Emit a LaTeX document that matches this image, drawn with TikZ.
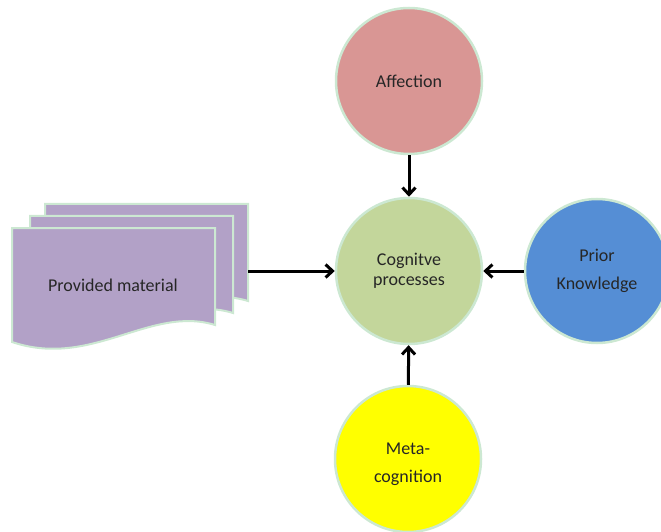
\documentclass[tikz,border=0pt]{standalone}
\usepackage{fontspec}
\setmainfont{Carlito}
\usepackage{xcolor}
\usepackage{tikz}
\usetikzlibrary{positioning,arrows.meta}

\definecolor{rimgreen}{RGB}{204,232,210}
\definecolor{affred}{RGB}{217,150,148}
\definecolor{coggreen}{RGB}{195,214,155}
\definecolor{priorblue}{RGB}{85,142,213}
\definecolor{metayellow}{RGB}{255,255,0}
\definecolor{matpurple}{RGB}{178,161,199}

\begin{document}
\begin{tikzpicture}[
  x=1pt, y=1pt,
  font=\fontsize{18}{20}\selectfont,
  bubble/.style={
    circle,
    draw=rimgreen,
    line width=2.5pt,
    minimum size=146pt,
    align=center,
    text=black!85,
    inner sep=0pt
  },
  wide/.style={font=\fontsize{18}{28}\selectfont},
  sheet/.style={draw=rimgreen, line width=2pt, fill=matpurple},
  arrow/.style={-{Straight Barb[length=7pt,width=13pt]}, line width=3pt, black}
]
\useasboundingbox (0,0) rectangle (661,531);

% --- centre and the three circles round it ---
\node[bubble, fill=coggreen] (cog) at (409,260) {Cognitve\\processes};
\node[bubble, fill=affred] (aff) at (409,450) {Affection};
\node[bubble, fill=priorblue, wide, minimum size=144pt] (prior) at (597,260) {Prior\\Knowledge};
\node[bubble, fill=metayellow, wide] (meta) at (408,72) {\\[-6pt]Meta-\\cognition};

% --- Provided material: three stacked sheets ---
\foreach \dx/\dy in {33/24,18/12,0/0}
  \draw[sheet, shift={(\dx,\dy)}] (12,303) -- (215,303) -- (215,206)
    .. controls (150,226) and (92,162) .. (12,189) -- cycle;
\node[text=black!85] (mat) at (113,246) {Provided material};
\coordinate (matR) at (248,260);

% --- Arrows: everything feeds the centre ---
\draw[arrow] (aff) -- (cog);
\draw[arrow] (meta) -- (cog);
\draw[arrow] (prior) -- (cog);
\draw[arrow] (matR) -- (cog.west);

\end{tikzpicture}
\end{document}
